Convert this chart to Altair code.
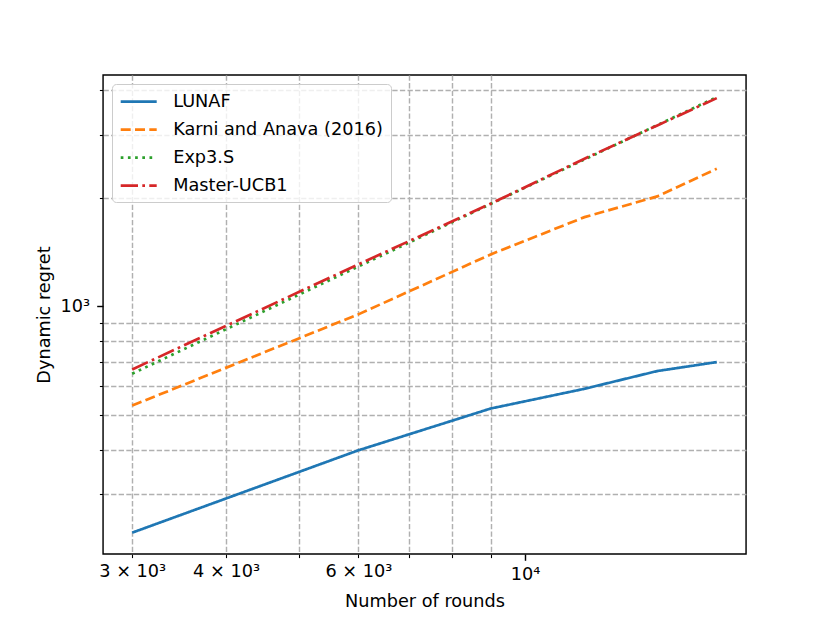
import altair as alt
import pandas as pd

# ---- data ----
rounds = [3000, 6000, 9000, 12000, 15000, 18000]
lunaf = [235, 398, 520, 590, 661, 700]
karni = [530, 950, 1394, 1770, 2021, 2413]
exp3s = [650, 1290, 1925, 2560, 3190, 3815]
master = [668, 1308, 1929, 2572, 3183, 3791]

names = ["LUNAF", "Karni and Anava (2016)", "Exp3.S", "Master-UCB1"]
colors = ["#1f77b4", "#ff7f0e", "#2ca02c", "#d62728"]
dashes = [[1, 0], [10, 4.3], [2.7, 4.5], [17.3, 4.3, 2.7, 4.3]]

x_ticks = [3000, 4000, 5000, 6000, 7000, 8000, 9000, 10000]
x_labels = ["3 × 10³", "4 × 10³", "", "6 × 10³", "", "", "", "10⁴"]
x_major = [10000]
y_ticks = [300, 400, 500, 600, 700, 800, 900, 1000, 2000, 3000, 4000]
y_labels = ["", "", "", "", "", "", "", "10³", "", "", ""]
y_major = [1000]

x_domain = [2743, 19687]
y_domain = [205, 4395]

series = [lunaf, karni, exp3s, master]
rows = []
for name, vals in zip(names, series):
    for r, v in zip(rounds, vals):
        rows.append({"rounds": r, "regret": v, "algorithm": name})
df = pd.DataFrame(rows)

FONT = "DejaVu Sans"
FS = 17.7


def label_expr(values, labels):
    expr = "''"
    for v, l in reversed(list(zip(values, labels))):
        expr = f"datum.value == {v} ? '{l}' : ({expr})"
    return expr


def major_test(majors):
    return " || ".join(f"datum.value == {m}" for m in majors)


x_axis = alt.Axis(
    values=x_ticks,
    labelExpr=label_expr(x_ticks, x_labels),
    tickSize={"condition": {"test": major_test(x_major), "value": 6.3}, "value": 3.6},
    tickWidth={"condition": {"test": major_test(x_major), "value": 1.44}, "value": 1.08},
    gridOpacity={"condition": {"test": major_test(x_major), "value": 0}, "value": 1},
    grid=True,
    gridColor="#b0b0b0",
    gridDash=[5.3, 2.3],
    gridWidth=1.44,
    tickColor="black",
    labelColor="black",
    labelPadding=5,
    labelFlush=False,
    labelOverlap=False,
    labelFont=FONT,
    labelFontSize=FS,
    domain=False,
    title="Number of rounds",
    titleFont=FONT,
    titleFontSize=FS,
    titleFontWeight="normal",
    titleColor="black",
    titleBaseline="alphabetic",
    titleY=52.5,
)

y_axis = alt.Axis(
    values=y_ticks,
    labelExpr=label_expr(y_ticks, y_labels),
    tickSize={"condition": {"test": major_test(y_major), "value": 6.3}, "value": 3.6},
    tickWidth={"condition": {"test": major_test(y_major), "value": 1.44}, "value": 1.08},
    gridOpacity={"condition": {"test": major_test(y_major), "value": 0}, "value": 1},
    grid=True,
    gridColor="#b0b0b0",
    gridDash=[5.3, 2.3],
    gridWidth=1.44,
    tickColor="black",
    labelColor="black",
    labelPadding=7,
    labelFlush=False,
    labelOverlap=False,
    labelFont=FONT,
    labelFontSize=FS,
    domain=False,
    title="Dynamic regret",
    titleFont=FONT,
    titleFontSize=FS,
    titleFontWeight="normal",
    titleColor="black",
    titleAngle=270,
    titleAlign="center",
    titleBaseline="alphabetic",
    titleX=-54,
    titleY=239.5,
)

legend = alt.Legend(
    title=None,
    orient="none",
    legendX=9,
    legendY=9,
    padding=7.2,
    cornerRadius=4,
    strokeColor="#cccccc",
    fillColor="rgba(255,255,255,0.8)",
    symbolType="M-2,0H2",
    symbolSize=324,
    symbolStrokeWidth=2.7,
    symbolOffset=9,
    labelOffset=24,
    labelFont=FONT,
    labelFontSize=FS,
    labelColor="black",
    rowPadding=8,
    labelLimit=400,
)

base = alt.Chart(df).mark_line(strokeWidth=2.7, strokeCap="butt").encode(
    x=alt.X("rounds:Q", scale=alt.Scale(type="log", domain=x_domain, nice=False), axis=x_axis),
    y=alt.Y("regret:Q", scale=alt.Scale(type="log", domain=y_domain, nice=False), axis=y_axis),
    color=alt.Color("algorithm:N", scale=alt.Scale(domain=names, range=colors), legend=legend),
    strokeDash=alt.StrokeDash("algorithm:N", scale=alt.Scale(domain=names, range=dashes), legend=legend),
)

layers = [base.transform_filter(alt.datum.algorithm == n) for n in names]

chart = alt.layer(*layers).properties(
    width=643,
    height=479,
    autosize=alt.AutoSizeParams(type="none"),
    padding={"left": 95, "top": 67, "right": 76, "bottom": 61},
).configure_view(stroke="black", strokeWidth=1.44)

chart.save("out.html", embed_options={"renderer": "svg", "actions": False})
